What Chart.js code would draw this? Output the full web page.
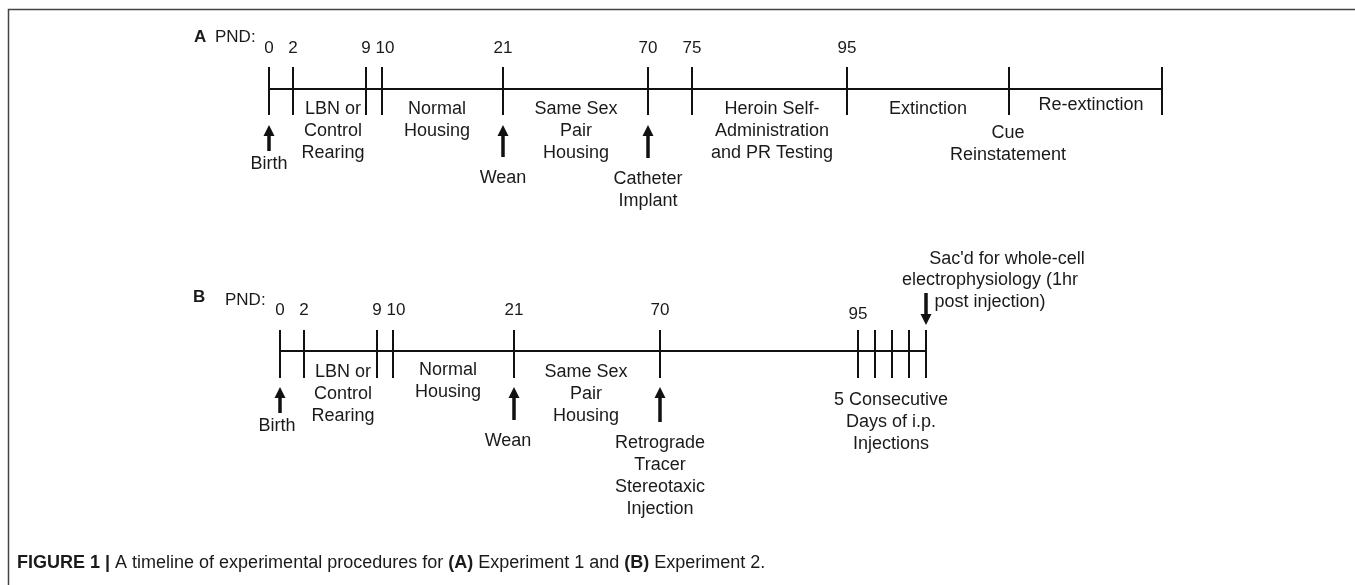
<!DOCTYPE html>
<html>
<head>
<meta charset="utf-8">
<script src="https://cdn.jsdelivr.net/npm/chart.js@4/dist/chart.umd.min.js"></script>
<style>
  body { margin: 0; background: #fff; }
  #wrap { width: 1355px; height: 585px; }
</style>
</head>
<body>
<div id="wrap"><canvas id="timeline" width="1355" height="585"></canvas></div>
<script>
// ---- panel A (Experiment 1) ----
var pndA = ['0', '2', '9', '10', '21', '70', '75', '95'];           // day labels above the ticks
var tickA = [269, 293, 366, 382, 503, 648, 692, 847, 1009, 1162];    // tick positions along timeline A
var periodsA = [['LBN or', 'Control', 'Rearing'], ['Normal', 'Housing'], ['Same Sex', 'Pair', 'Housing'],
                ['Heroin Self-', 'Administration', 'and PR Testing'], ['Extinction'], ['Re-extinction']];
var eventsA = [['Birth'], ['Wean'], ['Catheter', 'Implant']];
var cueA = ['Cue', 'Reinstatement'];

// ---- panel B (Experiment 2) ----
var pndB = ['0', '2', '9', '10', '21', '70', '95'];
var tickB = [280, 304, 377, 393, 514, 660, 858, 875, 892, 909, 926];
var periodsB = [['LBN or', 'Control', 'Rearing'], ['Normal', 'Housing'], ['Same Sex', 'Pair', 'Housing']];
var eventsB = [['Birth'], ['Wean'], ['Retrograde', 'Tracer', 'Stereotaxic', 'Injection']];
var injB = ['5 Consecutive', 'Days of i.p.', 'Injections'];
var sacB = ["Sac'd for whole-cell", 'electrophysiology (1hr', 'post injection)'];

var caption = [['FIGURE 1 | ', true], ['A timeline of experimental procedures for ', false], ['(A)', true],
               [' Experiment 1 and ', false], ['(B)', true], [' Experiment 2.', false]];

// layout (where things sit in the figure)
var lineYA = 89, lineYB = 351;
var periodPosA = [[333, 109], [437, 109], [576, 109], [772, 109], [928, 109], [1091, 105]];
var periodPosB = [[343, 372], [448, 370], [586, 372]];
var eventTickA = [0, 4, 5], eventLabYA = [164, 178, 179], eventTailA = [151, 157, 158];
var eventTickB = [0, 4, 5], eventLabYB = [426, 441, 443], eventTailB = [413, 420, 422];
var LBL = '18px "Liberation Sans", Arial, sans-serif';
var NUM = '17px "Liberation Sans", Arial, sans-serif';
var INK = '#111';

function pts(xs, y) { return xs.map(function (x) { return { x: x, y: y }; }); }

var figure = {
  id: 'figure',
  afterDatasetsDraw: function (chart) {
    var ctx = chart.ctx, sx = chart.scales.x, sy = chart.scales.y;
    function X(v) { return sx.getPixelForValue(v); }
    function Y(v) { return sy.getPixelForValue(v); }
    function lines(arr, x, y, step) {
      arr.forEach(function (t, i) { ctx.fillText(t, X(x), Y(y + i * (step || 22))); });
    }
    function arrow(x, tail, tip) {
      var dir = tip < tail ? 1 : -1, head = 11;
      ctx.strokeStyle = INK; ctx.lineWidth = 3.5;
      ctx.beginPath(); ctx.moveTo(X(x), Y(tail)); ctx.lineTo(X(x), Y(tip + dir * (head - 2))); ctx.stroke();
      ctx.fillStyle = INK;
      ctx.beginPath();
      ctx.moveTo(X(x), Y(tip));
      ctx.lineTo(X(x) - 5.5, Y(tip + dir * head));
      ctx.lineTo(X(x) + 5.5, Y(tip + dir * head));
      ctx.closePath(); ctx.fill();
    }
    ctx.save();
    // frame
    ctx.strokeStyle = '#444'; ctx.lineWidth = 1.5;
    ctx.beginPath(); ctx.moveTo(X(8.5), Y(585)); ctx.lineTo(X(8.5), Y(9.5)); ctx.lineTo(X(1355), Y(9.5)); ctx.stroke();

    // arrows
    eventTickA.forEach(function (k, i) { arrow(tickA[k], eventTailA[i], 125); });
    eventTickB.forEach(function (k, i) { arrow(tickB[k], eventTailB[i], 387); });
    arrow(tickB[tickB.length - 1], 293, 325);

    ctx.fillStyle = '#1a1a1a';
    ctx.textBaseline = 'middle';
    // panel letters
    ctx.textAlign = 'left';
    ctx.font = 'bold 17px "Liberation Sans", Arial, sans-serif';
    ctx.fillText('A', X(194), Y(37));
    ctx.fillText('B', X(193), Y(297));
    ctx.font = NUM;
    ctx.fillText('PND:', X(215), Y(37));
    ctx.fillText('PND:', X(225), Y(300));

    ctx.textAlign = 'center';
    pndA.forEach(function (t, i) { ctx.fillText(t, X(tickA[i] + (t === '10' ? 3 : 0)), Y(48)); });
    pndB.forEach(function (t, i) {
      ctx.fillText(t, X(tickB[i] + (t === '10' ? 3 : 0)), Y(t === '95' ? 314 : 310));
    });

    ctx.font = LBL;
    periodsA.forEach(function (p, i) { lines(p, periodPosA[i][0], periodPosA[i][1]); });
    periodsB.forEach(function (p, i) { lines(p, periodPosB[i][0], periodPosB[i][1]); });
    eventsA.forEach(function (e, i) { lines(e, tickA[eventTickA[i]], eventLabYA[i]); });
    eventsB.forEach(function (e, i) { lines(e, tickB[eventTickB[i]] - (i === 1 ? 6 : (i === 0 ? 3 : 0)), eventLabYB[i]); });
    lines(cueA, 1008, 133);
    lines(injB, 891, 400);
    ctx.fillText(sacB[0], X(1007), Y(259));
    lines(sacB.slice(1), 990, 280);

    // caption
    ctx.textAlign = 'left';
    var cx = X(17);
    caption.forEach(function (c) {
      ctx.font = (c[1] ? 'bold ' : '') + '18px "Liberation Sans", Arial, sans-serif';
      ctx.fillText(c[0], cx, Y(563));
      cx += ctx.measureText(c[0]).width;
    });
    ctx.restore();
  }
};

function timeline(xs, y) {
  return { data: [{ x: xs[0], y: y }, { x: xs[xs.length - 1], y: y }], showLine: true,
           borderColor: INK, borderWidth: 2, pointRadius: 0 };
}
function ticks(xs, y) {
  return { data: pts(xs, y), showLine: false, pointStyle: 'line', rotation: 90, pointRadius: 24,
           borderColor: INK, borderWidth: 2 };
}

new Chart(document.getElementById('timeline'), {
  type: 'scatter',
  data: {
    datasets: [timeline(tickA, lineYA), ticks(tickA, lineYA + 2), timeline(tickB, lineYB), ticks(tickB, lineYB + 3)]
  },
  options: {
    responsive: false,
    animation: false,
    events: [],
    layout: { padding: 0, autoPadding: false },
    plugins: { legend: { display: false }, tooltip: { enabled: false } },
    scales: {
      x: { type: 'linear', min: 0, max: 1355, display: false },
      y: { type: 'linear', min: 0, max: 585, reverse: true, display: false }
    }
  },
  plugins: [figure]
});
</script>
</body>
</html>
